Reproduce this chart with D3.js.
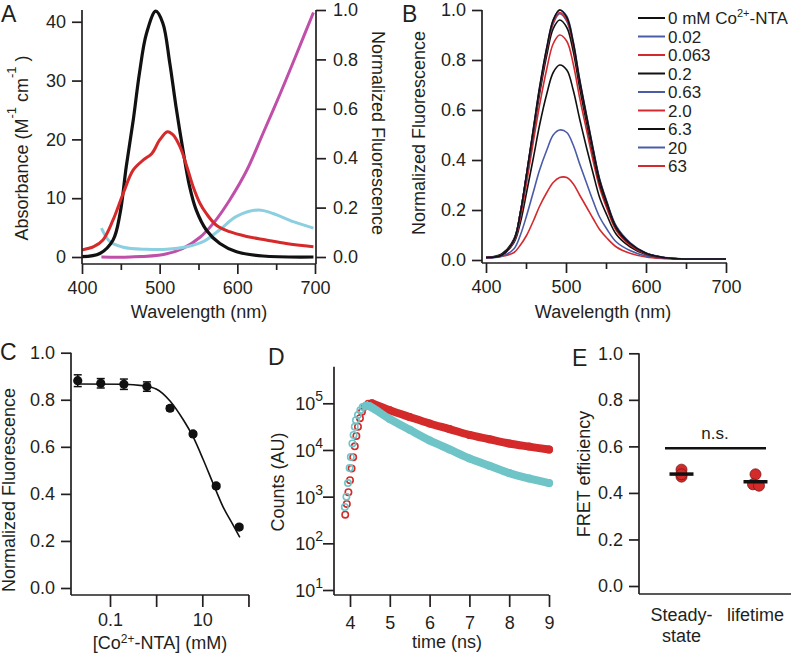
<!DOCTYPE html>
<html>
<head>
<meta http-equiv="Content-Type" content="text/html;charset=utf-8"/>
<script src="https://d3js.org/d3.v7.min.js"></script>
<style type="text/css">
body { margin: 0; background: #fff; }
svg text { font-family: "Liberation Sans", Arial, sans-serif; fill: #231f20; }
.axis line { stroke: #231f20; stroke-width: 1.7; }
.spine { stroke: #231f20; stroke-width: 1.7; }
</style>
</head>
<body>
<script>
// ---------- data ----------

// A: spectra (black, red, cyan on left axis; magenta on right axis)
var aBlackWl  = [400, 423, 440, 449, 457, 466, 474, 483, 495, 504, 513, 521, 530, 538.5, 547, 560, 577.5, 599, 633, 698];
var aBlackVal = [0.05, 0.6, 2.9, 7.4, 15.4, 23.3, 31.3, 38, 41.8, 39.8, 33, 25.6, 18.2, 12, 8, 4.6, 2.3, 0.9, 0.17, 0];
var aRedWl    = [400, 415, 427, 440, 453, 466, 479, 490, 500, 510, 517, 526, 535, 543, 552, 560, 573, 590, 612, 637, 663, 698];
var aRedVal   = [1.2, 1.75, 2.9, 6.3, 10.8, 14.8, 16.5, 17.6, 19.9, 21.3, 20.8, 18.8, 15.4, 12, 9.1, 7.4, 5.4, 4.3, 3.5, 2.9, 2.3, 1.75];
var aCyanWl   = [425, 436, 453, 483, 509, 535, 556, 577, 599, 627, 646, 672, 698];
var aCyanVal  = [4.9, 2.6, 1.65, 1.3, 1.3, 1.75, 2.6, 4.6, 6.9, 8.0, 7.4, 6.0, 4.9];
var aMagWl    = [425, 462, 505, 530, 552, 569, 590, 612, 633, 655, 676, 698];
var aMagVal   = [0.0, 0.0, 0.01, 0.035, 0.08, 0.136, 0.23, 0.35, 0.5, 0.66, 0.82, 0.99];

// B: emission spectra at each Co2+-NTA concentration
var bWl = [400, 420, 435, 443, 451, 459, 467, 476, 484, 492, 501, 509, 517, 526, 534, 542, 551, 563, 580, 600, 620, 640, 670, 700];
var bLabels = ["0 mM Co|2+|-NTA", "0.02", "0.063", "0.2", "0.63", "2.0", "6.3", "20", "63"];
var bColors = ["#111111", "#4a5ca8", "#d42a2f", "#111111", "#4a5ca8", "#d42a2f", "#111111", "#4a5ca8", "#d42a2f"];
var b0    = [0.01, 0.02, 0.08, 0.19, 0.35, 0.52, 0.69, 0.85, 0.96, 1.0, 0.97, 0.87, 0.72, 0.57, 0.44, 0.32, 0.23, 0.13, 0.067, 0.027, 0.011, 0.005, 0.004, 0.004];
var b002  = [0.01, 0.02, 0.08, 0.19, 0.35, 0.52, 0.69, 0.85, 0.96, 1.0, 0.975, 0.875, 0.725, 0.575, 0.445, 0.325, 0.235, 0.135, 0.07, 0.028, 0.012, 0.006, 0.004, 0.004];
var b0063 = [0.01, 0.02, 0.08, 0.19, 0.35, 0.515, 0.68, 0.84, 0.95, 0.99, 0.96, 0.86, 0.715, 0.565, 0.435, 0.32, 0.228, 0.13, 0.066, 0.027, 0.011, 0.005, 0.004, 0.004];
var b02   = [0.01, 0.025, 0.085, 0.19, 0.345, 0.505, 0.665, 0.82, 0.925, 0.96, 0.93, 0.835, 0.69, 0.545, 0.42, 0.305, 0.22, 0.125, 0.064, 0.026, 0.011, 0.005, 0.004, 0.004];
var b063  = [0.01, 0.02, 0.08, 0.19, 0.345, 0.51, 0.68, 0.835, 0.945, 0.985, 0.955, 0.86, 0.71, 0.56, 0.435, 0.315, 0.227, 0.128, 0.066, 0.027, 0.011, 0.005, 0.004, 0.004];
var b2    = [0.01, 0.02, 0.075, 0.17, 0.315, 0.47, 0.62, 0.765, 0.865, 0.90, 0.875, 0.785, 0.65, 0.515, 0.395, 0.29, 0.207, 0.117, 0.06, 0.024, 0.01, 0.005, 0.004, 0.004];
var b63c  = [0.01, 0.022, 0.07, 0.15, 0.275, 0.405, 0.54, 0.665, 0.75, 0.78, 0.76, 0.68, 0.565, 0.445, 0.345, 0.25, 0.18, 0.102, 0.053, 0.022, 0.01, 0.005, 0.004, 0.004];
var b20   = [0.008, 0.015, 0.045, 0.1, 0.18, 0.27, 0.36, 0.44, 0.5, 0.52, 0.51, 0.46, 0.385, 0.305, 0.235, 0.172, 0.124, 0.072, 0.038, 0.016, 0.008, 0.004, 0.003, 0.003];
var b63   = [0.01, 0.015, 0.03, 0.06, 0.1, 0.155, 0.215, 0.27, 0.31, 0.33, 0.33, 0.305, 0.26, 0.21, 0.165, 0.122, 0.088, 0.052, 0.027, 0.012, 0.006, 0.004, 0.003, 0.003];
var bSeries = [b0, b002, b0063, b02, b063, b2, b63c, b20, b63];

// C: titration
var cConc  = [0.02, 0.063, 0.2, 0.63, 2.0, 6.3, 20, 63];
var cFluor = [0.881, 0.870, 0.866, 0.856, 0.764, 0.655, 0.434, 0.259];
var cErr   = [0.025, 0.02, 0.022, 0.02, 0.01, 0.008, 0.008, 0.008];
var cFitConc = [0.02, 0.2, 0.5, 1.0, 2.0, 3.9, 6.3, 10.5, 17, 28, 46, 65];
var cFitVal  = [0.867, 0.866, 0.86, 0.846, 0.795, 0.714, 0.643, 0.545, 0.446, 0.346, 0.269, 0.215];

// D: lifetime decays
var dRedT   = [3.88, 3.92, 3.96, 4.00, 4.04, 4.08, 4.12, 4.16, 4.20, 4.25, 4.30, 4.38, 4.46, 4.55, 5.0, 5.5, 6.0, 6.5, 7.0, 7.5, 8.0, 8.5, 9.0];
var dRedC   = [410, 700, 1250, 2250, 4000, 7000, 12000, 20000, 31600, 48000, 66000, 85000, 97700, 100000, 71000, 51000, 37000, 28000, 21000, 17000, 13800, 11800, 10200];
var dCyanT  = [3.87, 3.91, 3.95, 3.99, 4.02, 4.06, 4.09, 4.12, 4.15, 4.20, 4.26, 4.32, 4.40, 4.48, 5.0, 5.5, 6.0, 6.5, 7.0, 7.5, 8.0, 8.5, 9.0];
var dCyanC  = [600, 1000, 1950, 4100, 7100, 13800, 21000, 31600, 43600, 56000, 71000, 83000, 89000, 87000, 46000, 27000, 16000, 10300, 6600, 4600, 3200, 2450, 1950];

// E: FRET efficiency
var eCats = ["Steady-state", "lifetime"];
var eSteady = [0.50, 0.47, 0.48];
var eLifetime = [0.48, 0.437, 0.431];
var eMeans = [0.481, 0.448];
var eSig = 0.592;

// ---------- drawing ----------
var width = 792, height = 654;
var svg = d3.select("body").append("svg")
            .attr("width", width)
            .attr("height", height);

var FS = 18;

function spine(x1, y1, x2, y2) {
    svg.append("line").attr("class", "spine")
       .attr("x1", x1).attr("y1", y1).attr("x2", x2).attr("y2", y2);
}

function axis(gen, x, y, ticks, fmt, size, pad) {
    var g = svg.append("g")
               .attr("class", "axis")
               .attr("transform", "translate(" + x + "," + y + ")")
               .call(gen.tickValues(ticks).tickFormat(fmt).tickSize(size).tickPadding(pad));
    g.select(".domain").remove();
    g.attr("font-size", FS).attr("font-family", null);
    return g;
}

// parts: strings, "^xx" = superscript
function rich(sel, parts, shift, supSize) {
    var up = 0;
    parts.forEach(function(p) {
        var t = sel.append("tspan");
        if (p.charAt(0) === "^") {
            t.attr("dy", -shift).attr("font-size", supSize).text(p.slice(1));
            up = shift;
        } else {
            t.attr("dy", up).text(p);
            up = 0;
        }
    });
}

function label(x, y, angle, parts, size, shift, supSize) {
    var t = svg.append("text")
               .attr("transform", "translate(" + x + "," + y + ") rotate(" + angle + ")")
               .attr("text-anchor", "middle")
               .attr("font-size", size || FS);
    rich(t, parts, shift || 7, supSize || 12);
    return t;
}

function letter(x, y, s) {
    svg.append("text").attr("x", x).attr("y", y).attr("font-size", 23).text(s);
}

function zip(a, b) { return a.map(function(v, i) { return [v, b[i]]; }); }

// ===== Panel A =====
var xA = d3.scaleLinear().domain([400, 700]).range([82, 315]);
var yA = d3.scaleLinear().domain([0, 42]).range([257, 10]);
var yA2 = d3.scaleLinear().domain([0, 1]).range([257, 10]);

var lineA = d3.line().x(function(d) { return xA(d[0]); }).y(function(d) { return yA(d[1]); })
              .curve(d3.curveCatmullRom);
var lineA2 = d3.line().x(function(d) { return xA(d[0]); }).y(function(d) { return yA2(d[1]); })
               .curve(d3.curveCatmullRom);

svg.append("path").datum(zip(aMagWl, aMagVal)).attr("d", lineA2)
   .attr("fill", "none").attr("stroke", "#c04fa9").attr("stroke-width", 3);
svg.append("path").datum(zip(aCyanWl, aCyanVal)).attr("d", lineA)
   .attr("fill", "none").attr("stroke", "#8ccfe0").attr("stroke-width", 3);
svg.append("path").datum(zip(aBlackWl, aBlackVal)).attr("d", lineA)
   .attr("fill", "none").attr("stroke", "#111").attr("stroke-width", 3.2);
svg.append("path").datum(zip(aRedWl, aRedVal)).attr("d", lineA)
   .attr("fill", "none").attr("stroke", "#d62a2a").attr("stroke-width", 3);

spine(82, 10, 82, 264);
spine(82, 264, 316, 264);
spine(316, 10, 316, 264);
axis(d3.axisLeft(yA), 82, 0, [0, 10, 20, 30, 40], d3.format("d"), 10, 6);
axis(d3.axisRight(yA2), 316, 0, [0, 0.2, 0.4, 0.6, 0.8, 1.0], d3.format(".1f"), 10, 7);
axis(d3.axisBottom(xA), 0, 264, [400, 500, 600, 700], d3.format("d"), 10, 7);
axis(d3.axisBottom(xA), 0, 264, [450, 550, 650], "", 6, 0);

label(28, 148, -90, ["Absorbance (M", "^-1", " cm", "^-1", " )"], FS, 12, 13);
label(372, 133, 90, ["Normalized Fluorescence"]);
label(199, 318, 0, ["Wavelength (nm)"]);
letter(1, 22, "A");

// ===== Panel B =====
var xB = d3.scaleLinear().domain([400, 700]).range([486, 726]);
var yB = d3.scaleLinear().domain([0, 1]).range([260, 10]);
var lineB = d3.line().x(function(d) { return xB(d[0]); }).y(function(d) { return yB(d[1]); })
              .curve(d3.curveCatmullRom);

for (var i = bSeries.length - 1; i >= 0; i--) {
    svg.append("path").datum(zip(bWl, bSeries[i])).attr("d", lineB)
       .attr("fill", "none").attr("stroke", bColors[i]).attr("stroke-width", 1.6);
}

spine(482, 10, 482, 263);
spine(482, 263, 727, 263);
axis(d3.axisLeft(yB), 482, 0, [0, 0.2, 0.4, 0.6, 0.8, 1.0], d3.format(".1f"), 10, 6);
axis(d3.axisBottom(xB), 0, 263, [400, 500, 600, 700], d3.format("d"), 10, 7);
axis(d3.axisBottom(xB), 0, 263, [450, 550, 650], "", 6, 0);

label(425, 133, -90, ["Normalized Fluorescence"]);
label(603, 318, 0, ["Wavelength (nm)"]);
letter(402, 22, "B");

// legend
bLabels.forEach(function(s, i) {
    var yy = 18 + i * 18.5;
    svg.append("line").attr("x1", 638).attr("x2", 665).attr("y1", yy).attr("y2", yy)
       .attr("stroke", bColors[i]).attr("stroke-width", 2);
    var t = svg.append("text").attr("x", 668).attr("y", yy + 6).attr("font-size", 17);
    rich(t, s.split("|").map(function(p, k) { return k === 1 ? "^" + p : p; }), 7, 11);
});

// ===== Panel C =====
var xC = d3.scaleLog().domain([0.1, 10]).range([110, 202.3]);
var yC = d3.scaleLinear().domain([0, 1]).range([588, 352.7]);

svg.append("path").datum(zip(cFitConc, cFitVal))
   .attr("d", d3.line().x(function(d) { return xC(d[0]); }).y(function(d) { return yC(d[1]); })
                .curve(d3.curveMonotoneX))
   .attr("fill", "none").attr("stroke", "#111").attr("stroke-width", 1.6);

var cPts = svg.append("g").selectAll("g").data(zip(cConc, zip(cFluor, cErr))).enter().append("g");
cPts.append("line")
    .attr("x1", function(d) { return xC(d[0]); }).attr("x2", function(d) { return xC(d[0]); })
    .attr("y1", function(d) { return yC(d[1][0] - d[1][1]); })
    .attr("y2", function(d) { return yC(d[1][0] + d[1][1]); })
    .attr("stroke", "#111").attr("stroke-width", 1.5);
[1, -1].forEach(function(sg) {
    cPts.append("line")
        .attr("x1", function(d) { return xC(d[0]) - 4; }).attr("x2", function(d) { return xC(d[0]) + 4; })
        .attr("y1", function(d) { return yC(d[1][0] + sg * d[1][1]); })
        .attr("y2", function(d) { return yC(d[1][0] + sg * d[1][1]); })
        .attr("stroke", "#111").attr("stroke-width", 1.5);
});
cPts.append("circle")
    .attr("cx", function(d) { return xC(d[0]); }).attr("cy", function(d) { return yC(d[1][0]); })
    .attr("r", 4.6).attr("fill", "#111");

spine(71, 352.7, 71, 595);
spine(71, 595, 249, 595);
axis(d3.axisLeft(yC), 71, 0, [0, 0.2, 0.4, 0.6, 0.8, 1.0], d3.format(".1f"), 10, 6);
axis(d3.axisBottom(xC), 0, 595, [0.1, 1, 10, 100],
     function(d) { return d === 0.1 ? "0.1" : (d === 10 ? "10" : ""); }, 12, 6);

label(15, 490, -90, ["Normalized Fluorescence"]);
label(160, 649, 0, ["[Co", "^2+", "-NTA] (mM)"], FS, 6, 12);
letter(0, 360, "C");

// ===== Panel D =====
var xD = d3.scaleLinear().domain([4, 9]).range([350, 549]);
var yD = d3.scaleLog().domain([10, 1e5]).range([590, 403.3]);

function decay(T, C, color) {
    var pts = zip(T, C);
    var peak = d3.maxIndex(C);
    svg.append("path").datum(pts.slice(peak))
       .attr("d", d3.line().x(function(d) { return xD(d[0]); }).y(function(d) { return yD(d[1]); })
                    .curve(d3.curveCatmullRom))
       .attr("fill", "none").attr("stroke", color).attr("stroke-width", 8)
       .attr("stroke-linecap", "round");
    svg.append("g").selectAll("circle").data(pts).enter().append("circle")
       .attr("cx", function(d) { return xD(d[0]); }).attr("cy", function(d) { return yD(d[1]); })
       .attr("r", 3.2).attr("fill", "none").attr("stroke", color).attr("stroke-width", 1.6);
}
decay(dRedT, dRedC, "#d42a2a");
decay(dCyanT, dCyanC, "#6fc4c8");

spine(334, 366.7, 334, 595);
spine(334, 595, 549, 595);
axis(d3.axisLeft(yD), 334, 0, [10, 100, 1000, 1e4, 1e5], "", 11, 0);
axis(d3.axisBottom(xD), 0, 595, [4, 5, 6, 7, 8, 9], d3.format("d"), 12, 9);
[1, 2, 3, 4, 5].forEach(function(e) {
    var t = svg.append("text").attr("x", 323).attr("y", yD(Math.pow(10, e)) + 7)
               .attr("text-anchor", "end").attr("font-size", FS);
    rich(t, ["10", "^" + e], 9, 14);
});

label(284, 482, -90, ["Counts (AU)"]);
label(447, 648, 0, ["time (ns)"]);
letter(268, 365, "D");

// ===== Panel E =====
var xE = d3.scalePoint().domain(eCats).range([681.5, 755.5]);
var yE = d3.scaleLinear().domain([0, 1]).range([586, 353.3]);
var jitter = [0, -2.5, 3.5];

svg.append("line").attr("x1", 665).attr("x2", 766).attr("y1", yE(eSig)).attr("y2", yE(eSig))
   .attr("stroke", "#111").attr("stroke-width", 2.5);
svg.append("text").attr("x", 715).attr("y", yE(eSig) - 9).attr("text-anchor", "middle")
   .attr("font-size", 17).text("n.s.");

[eSteady, eLifetime].forEach(function(vals, k) {
    svg.append("g").selectAll("circle").data(vals).enter().append("circle")
       .attr("cx", function(d, i) { return xE(eCats[k]) + (k === 0 ? 0 : jitter[i]); })
       .attr("cy", function(d) { return yE(d); })
       .attr("r", 5.5).attr("fill", "#d42a2a").attr("stroke", "#7d1515").attr("stroke-width", 0.8);
    svg.append("line")
       .attr("x1", xE(eCats[k]) - 12).attr("x2", xE(eCats[k]) + 12)
       .attr("y1", yE(eMeans[k])).attr("y2", yE(eMeans[k]))
       .attr("stroke", "#111").attr("stroke-width", 3.5);
});

spine(639, 353.3, 639, 594);
spine(639, 594, 791, 594);
axis(d3.axisLeft(yE), 639, 0, [0, 0.2, 0.4, 0.6, 0.8, 1.0], d3.format(".1f"), 10, 6);

svg.append("text").attr("x", xE(eCats[0])).attr("y", 621).attr("text-anchor", "middle")
   .attr("font-size", FS).text("Steady-");
svg.append("text").attr("x", xE(eCats[0])).attr("y", 642).attr("text-anchor", "middle")
   .attr("font-size", FS).text("state");
svg.append("text").attr("x", xE(eCats[1])).attr("y", 621).attr("text-anchor", "middle")
   .attr("font-size", FS).text("lifetime");

label(590, 474, -90, ["FRET efficiency"]);
letter(572, 366, "E");
</script>
</body>
</html>
